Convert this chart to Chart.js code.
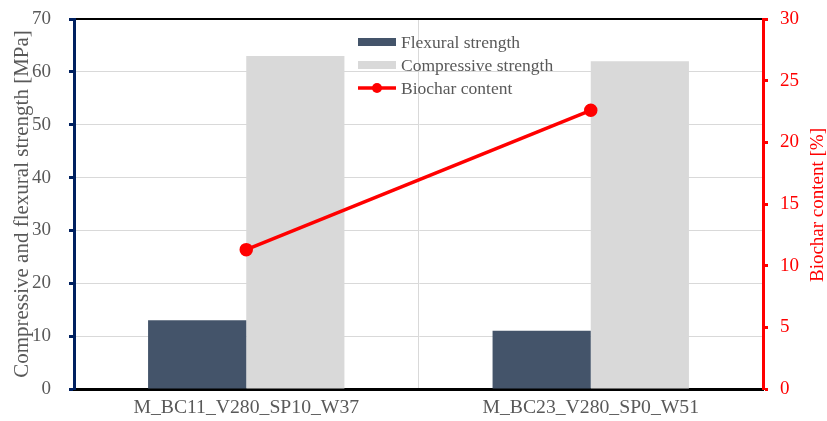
<!DOCTYPE html>
<html><head><meta charset="utf-8">
<script src="https://cdn.jsdelivr.net/npm/chart.js@4/dist/chart.umd.min.js"></script>
<style>html,body{margin:0;padding:0;background:#fff}</style>
</head><body>
<canvas id="c" width="827" height="421"></canvas>
<script>
const categories = ["M_BC11_V280_SP10_W37", "M_BC23_V280_SP0_W51"];
const flexuralStrength = [13, 11];
const compressiveStrength = [63, 62];
const biocharContent = [11.3, 22.6];
const seriesNames = ["Flexural strength", "Compressive strength", "Biochar content"];
const leftAxisRange = [0, 70, 10];
const rightAxisRange = [0, 30, 5];
const rightTitle = "Biochar content [%]";

const FONT = "'Liberation Serif', 'Times New Roman', serif";
const GRAY = '#595959';
const RED = '#FF0000';
const NAVY = '#002060';

const insideLegend = {
  id: 'insideLegend',
  afterDraw(chart) {
    const ctx = chart.ctx;
    const ds = chart.data.datasets;
    const x0 = 358, w = 38, tx = 401;
    const rows = [42, 65, 88];
    ctx.save();
    ctx.font = "17.5px " + FONT;
    ctx.textBaseline = 'middle';
    ctx.textAlign = 'left';
    ds.forEach((d, i) => {
      const y = rows[i];
      if (d.type === 'line') {
        ctx.strokeStyle = d.borderColor;
        ctx.lineWidth = 3.5;
        ctx.beginPath(); ctx.moveTo(x0, y); ctx.lineTo(x0 + w, y); ctx.stroke();
        ctx.fillStyle = d.pointBackgroundColor;
        ctx.beginPath(); ctx.arc(x0 + w / 2, y, 5, 0, Math.PI * 2); ctx.fill();
      } else {
        ctx.fillStyle = d.backgroundColor;
        ctx.fillRect(x0, y - 4, w, 8);
      }
      ctx.fillStyle = GRAY;
      ctx.fillText(d.label, tx, y + 1);
    });
    // right axis title, reading bottom-to-top like the reference
    const ca = chart.chartArea;
    ctx.translate(818, (ca.top + ca.bottom) / 2 + 1);
    ctx.rotate(-Math.PI / 2);
    ctx.textAlign = 'center';
    ctx.font = "19px " + FONT;
    ctx.fillStyle = RED;
    ctx.fillText(rightTitle, 0, 0);
    ctx.restore();
  }
};

function fixPad(s) { s.paddingTop = 4; s.paddingBottom = 4; }

new Chart(document.getElementById('c'), {
  data: {
    labels: categories,
    datasets: [
      { type: 'bar', label: seriesNames[0], data: flexuralStrength, backgroundColor: '#44546A', borderWidth: 0, yAxisID: 'y', xAxisID: 'x', order: 1 },
      { type: 'bar', label: seriesNames[1], data: compressiveStrength, backgroundColor: '#D9D9D9', borderWidth: 0, yAxisID: 'y', xAxisID: 'x', order: 1 },
      { type: 'line', label: seriesNames[2], data: biocharContent, borderColor: RED, backgroundColor: RED, pointBackgroundColor: RED, pointBorderColor: RED, pointRadius: 5, borderWidth: 3.5, yAxisID: 'y2', xAxisID: 'x', order: 0 }
    ]
  },
  options: {
    responsive: false,
    animation: false,
    layout: { padding: { top: 19, left: 0, right: 0, bottom: 0 } },
    datasets: { bar: { barPercentage: 1, categoryPercentage: 0.57 } },
    plugins: { legend: { display: false }, tooltip: { enabled: false } },
    scales: {
      x: {
        type: 'category', position: 'bottom', offset: true,
        grid: { display: true, color: '#D9D9D9', offset: true, drawTicks: false },
        border: { color: '#000', width: 3 },
        ticks: { color: GRAY, font: { family: FONT, size: 19.7 }, padding: 7 },
        afterFit(s) { s.height = 32; }
      },
      xTop: {
        type: 'category', position: 'top', labels: categories,
        grid: { display: true, drawOnChartArea: false, drawTicks: false },
        border: { color: '#000', width: 2 },
        ticks: { display: false },
        afterFit(s) { s.height = 0; }
      },
      y: {
        type: 'linear', position: 'left',
        min: leftAxisRange[0], max: leftAxisRange[1],
        ticks: { stepSize: leftAxisRange[2], color: GRAY, font: { family: FONT, size: 19 }, padding: 18 },
        grid: { color: '#D9D9D9', tickColor: NAVY, tickLength: 5, tickWidth: 3 },
        border: { color: NAVY, width: 3 },
        title: { display: true, text: 'Compressive and flexural strength [MPa]', color: GRAY, font: { family: FONT, size: 21, lineHeight: 1 }, padding: { top: 12, bottom: 0 } },
        afterFit(s) { s.width = 74; fixPad(s); }
      },
      y2: {
        type: 'linear', position: 'right',
        min: rightAxisRange[0], max: rightAxisRange[1],
        ticks: { stepSize: rightAxisRange[2], color: RED, font: { family: FONT, size: 19 }, padding: 12 },
        grid: { drawOnChartArea: false, tickColor: RED, tickLength: 5, tickWidth: 3 },
        border: { color: RED, width: 3 },
        title: { display: false },
        afterFit(s) { s.width = 64; fixPad(s); }
      }
    }
  },
  plugins: [insideLegend]
});
</script>
</body></html>
